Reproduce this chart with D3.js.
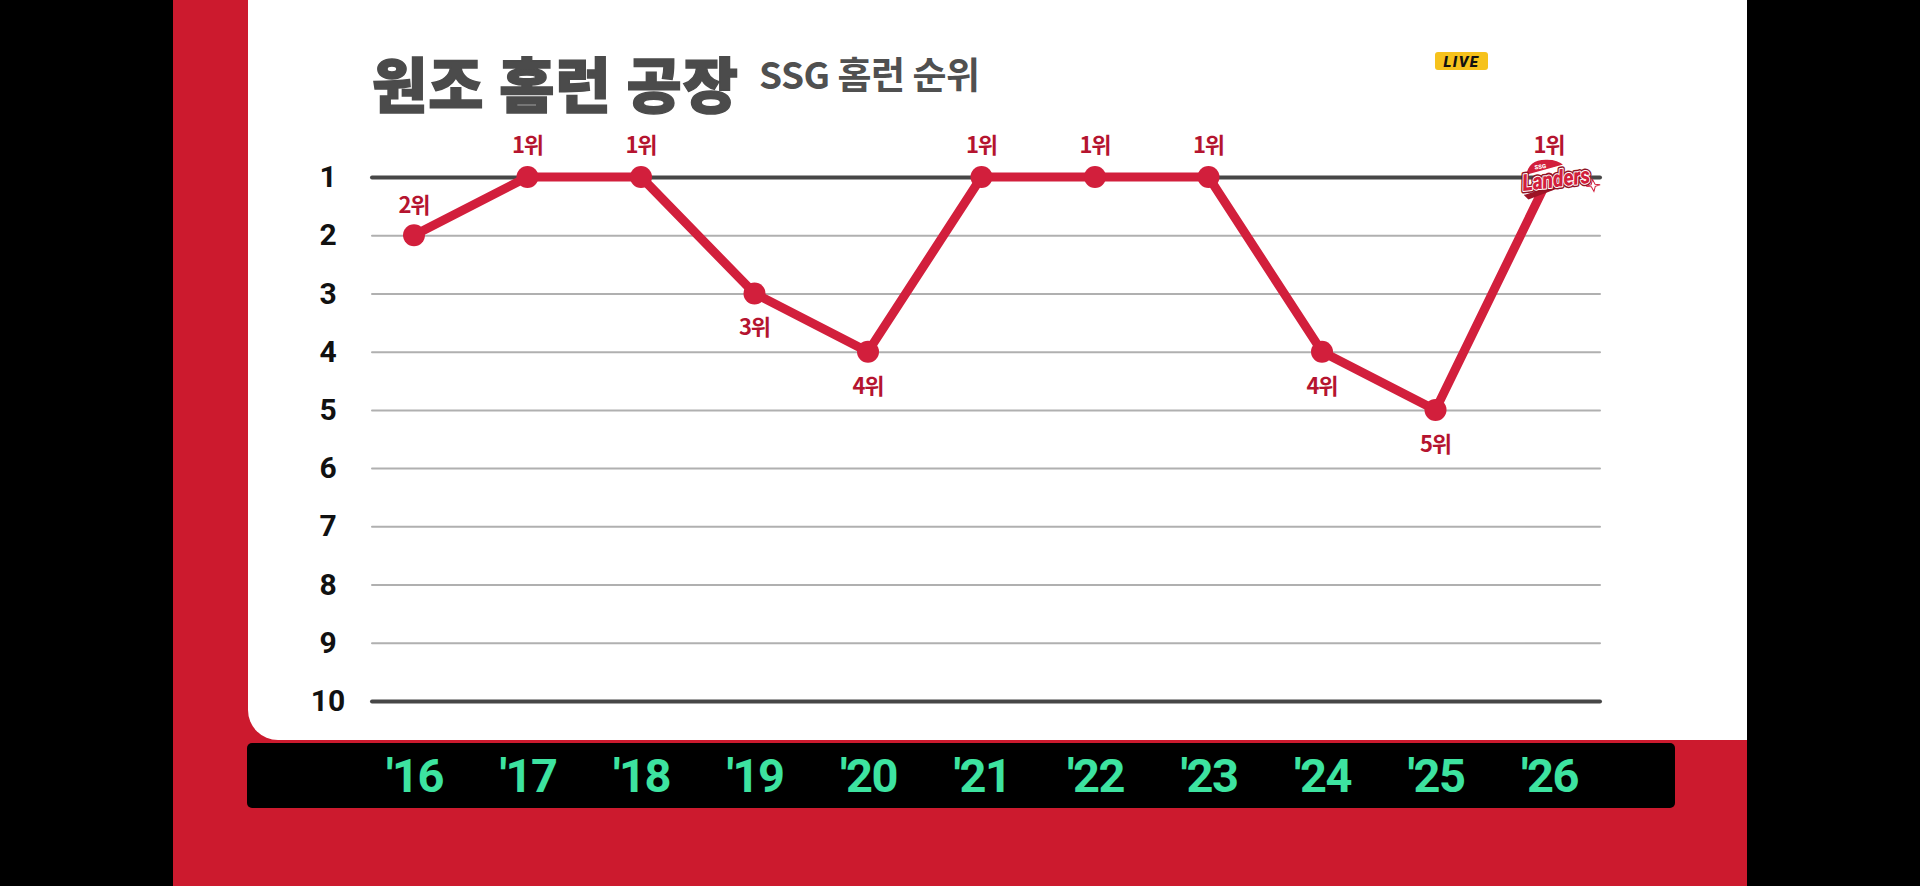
<!DOCTYPE html>
<html>
<head>
<meta charset="utf-8">
<script src="https://cdn.jsdelivr.net/npm/d3@7"></script>
<style>
  html, body { margin: 0; padding: 0; background: #000; overflow: hidden; }
  svg { display: block; }
</style>
</head>
<body>
<div id="chart"></div>
<script>
// chart data
const years = [2016, 2017, 2018, 2019, 2020, 2021, 2022, 2023, 2024, 2025, 2026];
const yearLabels = ["'16", "'17", "'18", "'19", "'20", "'21", "'22", "'23", "'24", "'25", "'26"];
const ranks = [2, 1, 1, 3, 4, 1, 1, 1, 4, 5, 1];
const rankTicks = [1, 2, 3, 4, 5, 6, 7, 8, 9, 10];
const titleText = "원조 홈런 공장";
const subtitleText = "SSG 홈런 순위";
const badgeText = "LIVE";

const width = 1920, height = 886;
const red = "#cc1a2e";
const lineRed = "#d21f3c";
const labelRed = "#b5142f";
const kr = "'Noto Sans CJK KR', 'Noto Sans', sans-serif";

const svg = d3.select("#chart")
  .append("svg")
  .attr("width", width)
  .attr("height", height);

// background frame
svg.append("rect").attr("width", width).attr("height", height).attr("fill", "#000");
svg.append("rect").attr("x", 173).attr("width", 1574).attr("height", height).attr("fill", red);

// white panel, rounded bottom-left corner
let px0 = 248, px1 = 1747, py1 = 740, pr = 30;
svg.append("path")
  .attr("d", `M${px0},0H${px1}V${py1}H${px0 + pr}A${pr},${pr} 0 0 1 ${px0},${py1 - pr}Z`)
  .attr("fill", "#fff");

// black bar behind the year labels
svg.append("rect")
  .attr("x", 247).attr("y", 743)
  .attr("width", 1428).attr("height", 65)
  .attr("rx", 5)
  .attr("fill", "#000");

// scales
const x = d3.scalePoint().domain(years).range([414, 1549]);
const y = d3.scaleLinear().domain([1, 10]).range([177, 701]);

// gridlines
const grid = svg.append("g")
  .attr("transform", "translate(372,0)")
  .call(d3.axisRight(y).tickValues(rankTicks).tickSize(1228).tickFormat(""));
grid.select(".domain").remove();
grid.selectAll(".tick line")
  .attr("stroke", d => (d === 1 || d === 10) ? "#474747" : "#b0b0b0")
  .attr("stroke-width", d => (d === 1 || d === 10) ? 4 : 2)
  .attr("stroke-linecap", "round");

// y axis labels
const yAxis = svg.append("g")
  .attr("transform", "translate(328,0)")
  .call(d3.axisLeft(y).tickValues(rankTicks).tickSize(0).tickPadding(0).tickFormat(d3.format("d")));
yAxis.select(".domain").remove();
yAxis.selectAll("text")
  .attr("text-anchor", "middle")
  .attr("font-family", "Roboto, 'Liberation Sans', sans-serif")
  .attr("font-weight", 700)
  .attr("font-size", 30)
  .attr("fill", "#111");

// x axis labels
const xAxis = svg.append("g")
  .attr("transform", "translate(0,792)")
  .call(d3.axisBottom(x).tickSize(0).tickPadding(0).tickFormat((d, i) => yearLabels[i]));
xAxis.select(".domain").remove();
xAxis.selectAll("text")
  .attr("y", 0)
  .attr("dy", null)
  .attr("text-anchor", "middle")
  .attr("font-family", "Roboto, 'Liberation Sans', sans-serif")
  .attr("font-weight", 700)
  .attr("font-size", 47)
  .attr("letter-spacing", -1.5)
  .attr("fill", "#3de3a0");

// title
svg.append("text")
  .attr("x", 372).attr("y", 108)
  .attr("font-family", kr)
  .attr("font-weight", 900)
  .attr("font-size", 60)
  .attr("textLength", 366)
  .attr("lengthAdjust", "spacing")
  .attr("fill", "#4b4b4b")
  .attr("stroke", "#4b4b4b")
  .attr("stroke-width", 1.5)
  .text(titleText);

svg.append("text")
  .attr("x", 759).attr("y", 89)
  .attr("font-family", kr)
  .attr("font-weight", 700)
  .attr("font-size", 37)
  .attr("letter-spacing", -0.5)
  .attr("fill", "#505050")
  .text(subtitleText);

// LIVE badge
svg.append("rect")
  .attr("x", 1435).attr("y", 52)
  .attr("width", 53).attr("height", 18)
  .attr("rx", 3)
  .attr("fill", "#f6c21c");
svg.append("text")
  .attr("x", 1461.5).attr("y", 66.5)
  .attr("text-anchor", "middle")
  .attr("font-family", "Roboto, 'Liberation Sans', sans-serif")
  .attr("font-weight", 900)
  .attr("font-style", "italic")
  .attr("font-size", 15)
  .attr("letter-spacing", 1.5)
  .attr("fill", "#111")
  .text(badgeText);

// rank line
const line = d3.line()
  .x((d, i) => x(years[i]))
  .y(d => y(d));

svg.append("path")
  .datum(ranks)
  .attr("d", line)
  .attr("fill", "none")
  .attr("stroke", lineRed)
  .attr("stroke-width", 9)
  .attr("stroke-linejoin", "round")
  .attr("stroke-linecap", "round");

const last = ranks.length - 1;

// markers (last point gets the team logo instead)
svg.selectAll(".dot")
  .data(ranks.slice(0, last))
  .join("circle")
  .attr("class", "dot")
  .attr("cx", (d, i) => x(years[i]))
  .attr("cy", d => y(d))
  .attr("r", 11)
  .attr("fill", lineRed);

// rank labels: above for the top two ranks, below otherwise
svg.selectAll(".rank-label")
  .data(ranks)
  .join("text")
  .attr("class", "rank-label")
  .attr("x", (d, i) => x(years[i]))
  .attr("y", d => y(d) + (d === 1 ? -24 : d === 2 ? -22 : 42))
  .attr("text-anchor", "middle")
  .attr("font-family", kr)
  .attr("font-weight", 700)
  .attr("font-size", 22)
  .attr("letter-spacing", -1)
  .attr("fill", labelRed)
  .text(d => d + "위");

// Landers logo on the last point
const logo = svg.append("g")
  .attr("transform", `translate(${x(years[last]) + 7},${y(ranks[last]) + 1}) rotate(-7)`);

// ball arc with SSG
logo.append("path")
  .attr("d", "M-30,-6 Q-26,-22 -8,-20 Q4,-19 10,-12 Z")
  .attr("fill", lineRed)
  .attr("stroke", "#fff")
  .attr("stroke-width", 1.5);
logo.append("text")
  .attr("x", -20).attr("y", -11)
  .attr("font-family", "Roboto, sans-serif")
  .attr("font-weight", 900)
  .attr("font-size", 6)
  .attr("fill", "#fff")
  .text("SSG");

// swoosh under the word
logo.append("path")
  .attr("d", "M-34,13 Q0,6 34,2 Q4,10 -30,18 Z")
  .attr("fill", "#9e1426");

logo.append("text")
  .attr("x", 0).attr("y", 9)
  .attr("text-anchor", "middle")
  .attr("font-family", "Roboto, sans-serif")
  .attr("font-weight", 900)
  .attr("font-style", "italic")
  .attr("font-size", 23)
  .attr("textLength", 68)
  .attr("lengthAdjust", "spacingAndGlyphs")
  .attr("fill", lineRed)
  .attr("stroke", "#8f1224")
  .attr("stroke-width", 5)
  .attr("stroke-linejoin", "round")
  .text("Landers");
logo.append("text")
  .attr("x", 0).attr("y", 9)
  .attr("text-anchor", "middle")
  .attr("font-family", "Roboto, sans-serif")
  .attr("font-weight", 900)
  .attr("font-style", "italic")
  .attr("font-size", 23)
  .attr("textLength", 68)
  .attr("lengthAdjust", "spacingAndGlyphs")
  .attr("fill", lineRed)
  .attr("stroke", "#fff")
  .attr("stroke-width", 2)
  .attr("paint-order", "stroke")
  .attr("stroke-linejoin", "round")
  .text("Landers");

// small star
logo.append("path")
  .attr("d", "M36,6 L38,11 L43,12 L38,13 L36,18 L34,13 L29,12 L34,11 Z")
  .attr("fill", "#fff")
  .attr("stroke", lineRed)
  .attr("stroke-width", 1);
</script>
</body>
</html>
